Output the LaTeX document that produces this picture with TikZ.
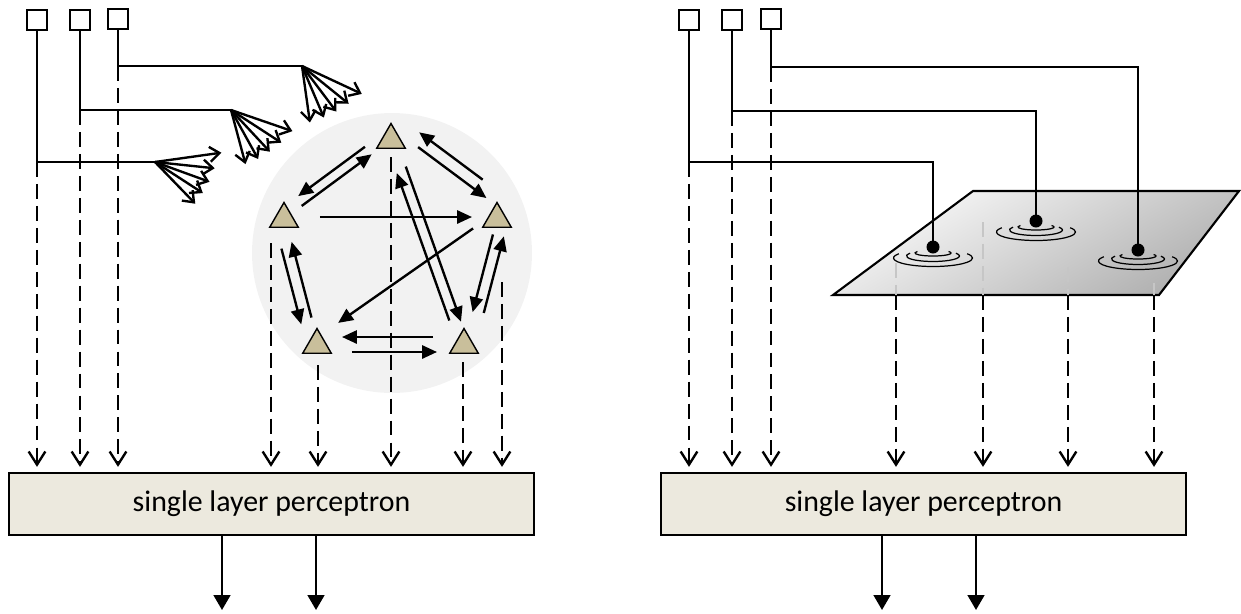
\documentclass[tikz,border=0pt]{standalone}
\usepackage{fontspec}
\setmainfont{Carlito}
\usetikzlibrary{arrows.meta,shapes.geometric,calc}
\definecolor{fondBoite}{RGB}{236,233,222}
\definecolor{neurone}{RGB}{201,191,155}
\definecolor{bulle}{RGB}{242,242,242}
\tikzset{
Carre/.style={
 draw=black,
 line width=1.3pt,
 fill=white,
 minimum size=4mm,
 inner sep=0pt
 },
Boite/.style={
 draw=black,
 line width=1.3pt,
 fill=fondBoite,
 minimum width=10.5cm,
 minimum height=12.4mm,
 font=\fontsize{17}{20}\selectfont
 },
Neurone/.style={
 regular polygon,
 regular polygon sides=3,
 draw=black,
 line width=0.8pt,
 fill=neurone,
 minimum size=6.6mm,
 inner sep=0pt
 },
Trait/.style={
 draw=black,
 line width=1.35pt
 },
PFleche/.style={
 draw=black,
 line width=1.35pt,
 dash pattern=on 8.5pt off 4pt,
 shorten >=1mm,
 -{Straight Barb[length=7.5pt,width=9.5pt]}
 },
GrisPointille/.style={
 draw=gray!45,
 line width=1.35pt,
 dash pattern=on 8.5pt off 4pt
 },
EFleche/.style={
 draw=black,
 line width=1.35pt,
 -{Straight Barb[length=5.5pt,width=8.5pt]}
 },
PleinFleche/.style={
 draw=black,
 line width=1.35pt,
 -{Triangle[length=8.5pt,width=7.5pt]}
 },
SortieFleche/.style={
 draw=black,
 line width=1.35pt,
 -{Triangle[length=8.5pt,width=9.5pt]}
 },
Ride/.style={
 draw=black,
 line width=0.7pt
 }
}
\newcommand{\Lien}[5]{%
 \draw[PleinFleche, shorten <=#4*0.2mm, shorten >=#5*0.2mm]
  ($(#1)!#3*0.2mm!90:(#2)$) -- ($(#2)!#3*0.2mm!-90:(#1)$);}
\newcommand{\Rides}[1]{%
 \foreach \rx/\ry/\dy in {7.9/1.7/11,5.3/1.1/9,3.6/0.6/6}
  \draw[Ride] ($(#1)+(0,\dy)$) ++(150:\rx mm and \ry mm)
   arc[start angle=150,end angle=390,x radius=\rx mm,y radius=\ry mm];}

\begin{document}
\begin{tikzpicture}[x=0.02cm,y=-0.02cm]
\useasboundingbox (0,0) rectangle (1241,613);

% left part
\node[circle,fill=bulle,minimum size=5.6cm,inner sep=0pt] (bulle) at (392,253) {};
\node[Carre] (eA1) at (37,20) {};
\node[Carre] (eA2) at (80,20) {};
\node[Carre] (eA3) at (118,19) {};
\node[Boite] (slpA) at (271.5,504) {single layer perceptron};

\coordinate (bA1) at (37,162);
\coordinate (bA2) at (80,110);
\coordinate (bA3) at (118,66);
\coordinate (fA1) at (155,162);
\coordinate (fA2) at (231,110);
\coordinate (fA3) at (302,66);

\draw[Trait] (eA1.south) -- (bA1) -- (fA1);
\draw[Trait] (eA2.south) -- (bA2) -- (fA2);
\draw[Trait] (eA3.south) -- (bA3) -- (fA3);
\draw[PFleche] (bA1) -- (bA1 |- slpA.north);
\draw[PFleche] (bA2) -- (bA2 |- slpA.north);
\draw[PFleche] (bA3) -- (bA3 |- slpA.north);

\foreach \a/\l in {-8/67,6/60,20/58,33/57,46/58}
 \draw[EFleche] (fA1) -- ++(\a:\l);
\foreach \a/\l in {19/65,33/60,47/57,61/56,75/56}
 \draw[EFleche] (fA2) -- ++(\a:\l);
\foreach \a/\l in {25/66,39/60,53/57,67/56,82/57}
 \draw[EFleche] (fA3) -- ++(\a:\l);

\node[Neurone] (nH) at (391,140) {};
\node[Neurone] (nG) at (284,219) {};
\node[Neurone] (nD) at (497,219) {};
\node[Neurone] (nBG) at (317,345) {};
\node[Neurone] (nBD) at (464,345) {};

\Lien{nH}{nG}{-10}{25}{25}
\Lien{nG}{nH}{0}{22}{24}
\Lien{nD}{nH}{-23}{35}{18}
\Lien{nH}{nD}{10.5}{26}{21}
\Lien{nG}{nD}{2}{36}{25}
\Lien{nD}{nBG}{-6}{25}{30}
\Lien{nH}{nBD}{5}{30}{23}
\Lien{nBD}{nH}{5.6}{28}{33}
\Lien{nG}{nBG}{-10}{28}{24}
\Lien{nBG}{nG}{-1.6}{28}{24}
\Lien{nD}{nBD}{0}{16}{34}
\Lien{nBD}{nD}{-11}{36}{15}
\Lien{nBD}{nBG}{-8}{31}{25}
\Lien{nBG}{nBD}{-7}{35}{27}

\coordinate (dG) at ($(nG)+(-13,24)$);
\coordinate (dBG) at ($(nBG)+(1,20)$);
\coordinate (dH) at ($(nH)+(0,17)$);
\coordinate (dBD) at ($(nBD)+(-1,17)$);
\coordinate (dD) at ($(nD)+(5,63)$);
\foreach \d in {dG,dBG,dH,dBD,dD}
 \draw[PFleche] (\d) -- (\d |- slpA.north);

\coordinate (oA1) at (222,610);
\coordinate (oA2) at (316,610);
\draw[SortieFleche] (oA1 |- slpA.south) -- (oA1);
\draw[SortieFleche] (oA2 |- slpA.south) -- (oA2);

% right part
\node[Carre] (eB1) at (689,20) {};
\node[Carre] (eB2) at (732,20) {};
\node[Carre] (eB3) at (771,19) {};
\node[Boite] (slpB) at (923.5,504) {single layer perceptron};

\coordinate (plHG) at (973,191);
\coordinate (plHD) at (1239,191);
\coordinate (plBD) at (1159,295);
\coordinate (plBG) at (833,295);
\shade[draw=black,line width=1.2pt,top color=gray!4,bottom color=gray!62,shading angle=30]
 (plHG) -- (plHD) -- (plBD) -- (plBG) -- cycle;

\coordinate (gA) at (896,263);
\coordinate (gB) at (983,222);
\coordinate (gC) at (1068,267);
\coordinate (gD) at (1154,283);
\foreach \g in {gA,gB,gC,gD}{
 \draw[GrisPointille] (\g) -- (\g |- plBG);
 \draw[PFleche] (\g |- plBG) -- (\g |- slpB.north);
}

\coordinate (sB1) at (933,247);
\coordinate (sB2) at (1036,221);
\coordinate (sB3) at (1138,250);
\Rides{sB1}
\Rides{sB2}
\Rides{sB3}

\coordinate (bB1) at (689,162);
\coordinate (bB2) at (732,111);
\coordinate (bB3) at (771,67);
\draw[Trait] (eB1.south) -- (bB1) -| (sB1);
\draw[Trait] (eB2.south) -- (bB2) -| (sB2);
\draw[Trait] (eB3.south) -- (bB3) -| (sB3);
\foreach \s in {sB1,sB2,sB3}
 \fill (\s) circle (1.3mm);
\draw[PFleche] (bB1) -- (bB1 |- slpB.north);
\draw[PFleche] (bB2) -- (bB2 |- slpB.north);
\draw[PFleche] (bB3) -- (bB3 |- slpB.north);

\coordinate (oB1) at (882,610);
\coordinate (oB2) at (976,610);
\draw[SortieFleche] (oB1 |- slpB.south) -- (oB1);
\draw[SortieFleche] (oB2 |- slpB.south) -- (oB2);
\end{tikzpicture}
\end{document}
